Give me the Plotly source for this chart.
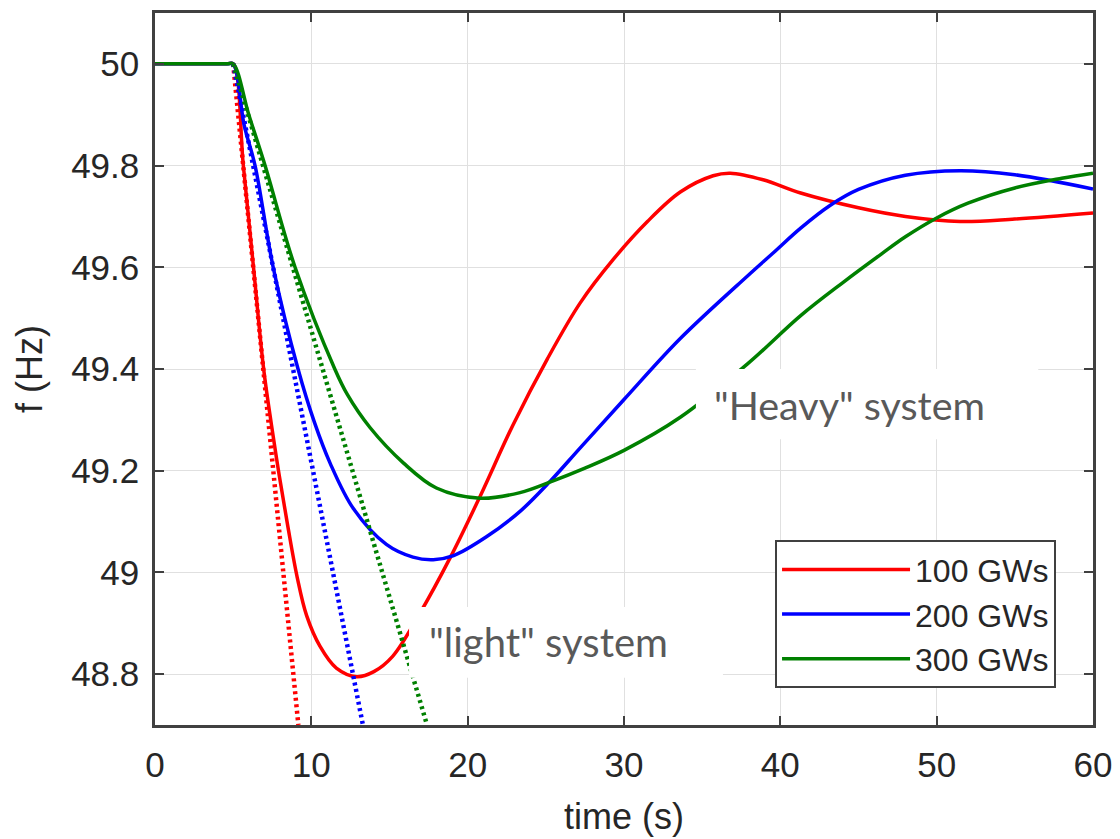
import plotly.graph_objects as go

# ---- data ----
t_100 = [0, 2.5, 4.6, 5, 5.65, 6.3, 6.95, 7.45, 7.95, 8.5, 9.1, 9.7, 10.55, 11.6, 12.9, 14.0,
         15.2, 16.95, 18.9, 20.8, 22.9, 25.1, 27.2, 29.3, 31.5, 33.6, 35.7, 36.8, 38.9, 41.3,
         45, 48, 51.5, 55, 60]
f_100 = [50, 50, 50, 50, 49.8, 49.6, 49.4, 49.29, 49.19, 49.09, 48.99, 48.915, 48.855, 48.812,
         48.795, 48.805, 48.835, 48.92, 49.03, 49.15, 49.29, 49.42, 49.53, 49.615, 49.69,
         49.748, 49.78, 49.785, 49.772, 49.746, 49.717, 49.70, 49.69, 49.695, 49.707]

t_200 = [0, 2.5, 4.6, 5, 5.7, 6.4, 7.56, 9.15, 10.2, 11.2, 12.7, 14.8, 16.5, 17.8, 19.1, 21.2,
         23.35, 25.3, 27.2, 30, 33.6, 37.9, 39.5, 41.3, 43.2, 45, 48, 51.5, 55, 60]
f_200 = [50, 50, 50, 50, 49.88, 49.8, 49.6, 49.4, 49.295, 49.215, 49.125, 49.055, 49.03,
         49.025, 49.033, 49.07, 49.12, 49.18, 49.245, 49.34, 49.46, 49.583, 49.627, 49.677,
         49.722, 49.753, 49.781, 49.79, 49.782, 49.754]

t_300 = [0, 2.5, 4.6, 5, 6.0, 7.04, 8.96, 11.5, 12.3, 13.75, 15.9, 18.0, 20.8, 23.35, 25.3,
         27.5, 30, 33.6, 37.9, 41.3, 44, 46.5, 48, 50, 52, 55, 58, 60]
f_300 = [50, 50, 50, 50, 49.9, 49.8, 49.6, 49.4, 49.35, 49.285, 49.215, 49.166, 49.146,
         49.157, 49.178, 49.205, 49.24, 49.305, 49.41, 49.505, 49.57, 49.627, 49.66, 49.697,
         49.726, 49.756, 49.775, 49.785]

# initial rate-of-change tangents (dotted)
tan_t_100 = [5, 9.17]
tan_t_200 = [5, 13.3]
tan_t_300 = [5, 17.4]
tan_f = [50, 48.7]

series_names = ["100 GWs", "200 GWs", "300 GWs"]
colors = ["#ff0000", "#0000ff", "#008000"]

x_ticks = [0, 10, 20, 30, 40, 50, 60]
y_ticks = [48.8, 49.0, 49.2, 49.4, 49.6, 49.8, 50.0]
y_tick_text = ["48.8", "49", "49.2", "49.4", "49.6", "49.8", "50"]

fig = go.Figure()

for t, f, name, c in zip([t_100, t_200, t_300], [f_100, f_200, f_300], series_names, colors):
    fig.add_trace(go.Scatter(x=t, y=f, mode="lines", name=name,
                             line=dict(color=c, width=3.5, shape="spline", smoothing=1.0)))

for t, c in zip([tan_t_100, tan_t_200, tan_t_300], colors):
    fig.add_trace(go.Scatter(x=t, y=tan_f, mode="lines", showlegend=False,
                             line=dict(color=c, width=4.5, dash="3px,3.5px")))

axis_col = "#404040"
text_col = "#262626"
grid_col = "#e0e0e0"
font_fam = "Liberation Sans, Arial"

fig.update_xaxes(range=[0, 60], tickvals=x_ticks, ticks="inside", ticklen=9, tickwidth=1.5,
                 tickcolor=axis_col, showline=True, linecolor=axis_col, linewidth=2.5,
                 mirror="ticks", showgrid=True, gridcolor=grid_col, gridwidth=1,
                 zeroline=False, tickfont=dict(size=35, color=text_col, family=font_fam),
                 ticklabelstandoff=7,
                 title=dict(text="time (s)", standoff=22,
                            font=dict(size=36, color=text_col, family=font_fam)))
fig.update_yaxes(range=[48.7, 50.1], tickvals=y_ticks, ticktext=y_tick_text, ticks="inside",
                 ticklen=9, tickwidth=1.5, tickcolor=axis_col, showline=True,
                 linecolor=axis_col, linewidth=2.5, mirror="ticks", showgrid=True,
                 gridcolor=grid_col, gridwidth=1, zeroline=False,
                 tickfont=dict(size=35, color=text_col, family=font_fam),
                 ticklabelstandoff=6,
                 title=dict(text="f (Hz)", standoff=18,
                            font=dict(size=36, color=text_col, family=font_fam)))

# white label boxes that mask the curves
fig.add_shape(type="rect", xref="x", yref="y", x0=34.6, x1=56.5, y0=49.262, y1=49.40,
              fillcolor="white", line=dict(width=0), layer="above")
fig.add_shape(type="rect", xref="x", yref="y", x0=16.25, x1=36.33, y0=48.793, y1=48.932,
              fillcolor="white", line=dict(width=0), layer="above")

fig.add_annotation(x=35.6, y=49.33, xref="x", yref="y", text='"Heavy" system',
                   showarrow=False, xanchor="left", yanchor="middle",
                   font=dict(size=39.5, color="#595959", family="Lato, Open Sans"))
fig.add_annotation(x=17.4, y=48.863, xref="x", yref="y", text='"light" system',
                   showarrow=False, xanchor="left", yanchor="middle",
                   font=dict(size=40, color="#595959", family="Lato, Open Sans"))

fig.update_layout(
    width=1112, height=831,
    margin=dict(l=147, r=27, t=2, b=114),
    paper_bgcolor="white", plot_bgcolor="white",
    legend=dict(x=0.9606, y=0.0517, xanchor="right", yanchor="bottom",
                bgcolor="white", bordercolor=axis_col, borderwidth=2,
                font=dict(size=32, color=text_col, family=font_fam),
                itemwidth=128, tracegroupgap=0),
)

fig.write_html("out.html")
